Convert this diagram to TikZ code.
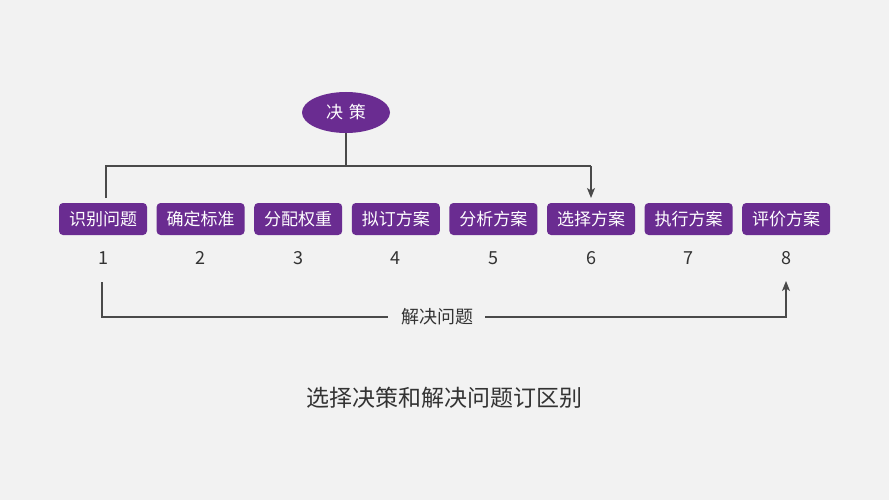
\documentclass[tikz,border=0pt]{standalone}
\usepackage{fontspec}
\setmainfont{Noto Sans CJK SC}
\usetikzlibrary{shapes.geometric,arrows.meta,calc}
\definecolor{bg}{HTML}{F2F2F2}
\definecolor{pur}{HTML}{6A2C91}
\definecolor{txt}{HTML}{333333}
\definecolor{ln}{HTML}{4A4A4A}
\begin{document}
\begin{tikzpicture}[x=1pt,y=-1pt,
  stepbox/.style={fill=pur,rounded corners=4pt,minimum width=88pt,minimum height=32pt,inner sep=0pt,text=white,font=\fontsize{17}{17}\selectfont},
  numlab/.style={text=txt,font=\fontsize{18}{18}\selectfont,inner sep=0pt},
  conn/.style={draw=ln,line width=1.2pt},
  tip/.style={-{Stealth[length=10pt,width=8pt,inset=2.5pt]}}]
\fill[bg] (0,0) rectangle (889,500);
\useasboundingbox (0,0) rectangle (889,500);
\node[ellipse,fill=pur,minimum width=88pt,minimum height=41pt,inner sep=0pt,text=white,font=\fontsize{17}{17}\selectfont] (top) at (346,112.5) {决\,\,策};
\foreach \t [count=\i] in {识别问题,确定标准,分配权重,拟订方案,分析方案,选择方案,执行方案,评价方案}{
  \node[stepbox] (s\i) at ({103+97.6*(\i-1)},219) {\t};
  \node[numlab] (n\i) at ({103+97.6*(\i-1)},258) {\i};
}
\coordinate (j) at (346,166);
\coordinate (jl) at (106,166);
\coordinate (jr) at (591,166);
\coordinate (l1end) at (106,198);
\coordinate (r1end) at (591,198);
\draw[conn] (top.south) -- (j);
\draw[conn] (l1end) -- (jl) -- (jr);
\draw[conn,tip] (jr) -- (r1end);
\node[text=txt,font=\fontsize{18}{18}\selectfont,inner sep=0pt] (mid) at (437,317) {解决问题};
\coordinate (bl) at (102,317);
\coordinate (br) at (786,317);
\coordinate (blt) at (102,282);
\coordinate (brt) at (786,281);
\coordinate (ml) at ($(mid.west)+(-13,0)$);
\coordinate (mr) at ($(mid.east)+(12,0)$);
\draw[conn] (blt) -- (bl) -- (ml);
\draw[conn,tip] (mr) -- (br) -- (brt);
\node[text=txt,font=\fontsize{23}{23}\selectfont,inner sep=0pt] (title) at (444,398) {选择决策和解决问题订区别};
\end{tikzpicture}
\end{document}
